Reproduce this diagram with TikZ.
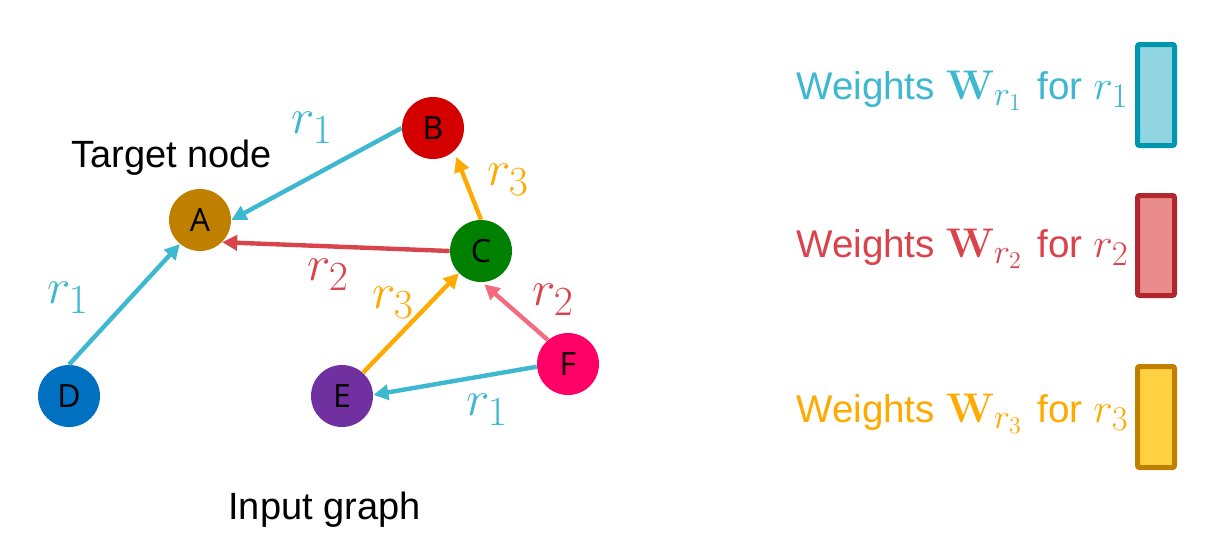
\documentclass[tikz,border=0pt]{standalone}
\usepackage[no-math]{fontspec}
\setmainfont{Liberation Sans}
\newfontfamily\nodefont{Open Sans}
\DeclareMathSizes{19.3}{19.3}{16}{12}
\DeclareMathSizes{23}{23}{19.5}{14}
\usetikzlibrary{arrows.meta}
\definecolor{cyanE}{HTML}{3DB8D0}
\definecolor{redE}{HTML}{D9434B}
\definecolor{orangeE}{HTML}{FFAA00}
\definecolor{pinkE}{HTML}{F46B7F}
\definecolor{nA}{HTML}{BF8000}
\definecolor{nB}{HTML}{D40000}
\definecolor{nC}{HTML}{008000}
\definecolor{nD}{HTML}{0070C0}
\definecolor{nE}{HTML}{7030A0}
\definecolor{nF}{HTML}{FF0066}
\definecolor{cyanFill}{HTML}{92D5E2}
\definecolor{cyanBorder}{HTML}{0097AE}
\definecolor{redFill}{HTML}{EA8C8C}
\definecolor{redBorder}{HTML}{B0282E}
\definecolor{yelFill}{HTML}{FFD140}
\definecolor{yelBorder}{HTML}{BF8000}
\tikzset{
  gnode/.style={circle, minimum size=31pt, inner sep=0pt, font=\nodefont\fontsize{16}{16}\selectfont, text=black},
  rel/.style={line width=2.2pt, -{Triangle[length=7.5pt,width=7.5pt]}},
  rlab/.style={inner sep=0pt, font=\fontsize{23}{23}\selectfont},
  plain/.style={inner sep=0pt, font=\fontsize{19}{19}\selectfont, text=black},
  legend/.style={inner sep=0pt, anchor=base east, font=\fontsize{19.3}{19.3}\selectfont},
  wbox/.style={line width=2.5pt, rounded corners=1pt},
}
\begin{document}
\begin{tikzpicture}[x=0.5pt, y=-0.5pt]
\useasboundingbox (0,0) rectangle (1222,554);
% nodes
\node[gnode, fill=nA] (A) at (200,220) {A};
\node[gnode, fill=nB] (B) at (433,128) {B};
\node[gnode, fill=nC] (C) at (481,251) {C};
\node[gnode, fill=nD] (D) at (69,396) {D};
\node[gnode, fill=nE] (E) at (342,396) {E};
\node[gnode, fill=nF] (F) at (568,364) {F};
% texts
\node[plain, anchor=base west] (tn) at (71,167) {Target node};
\node[plain, anchor=base west] (ig) at (228,519) {Input graph};
% edges
\draw[rel, cyanE] (B.180) -- (A.0);
\draw[rel, redE] (C.180) -- (A.-45);
\draw[rel, cyanE] (D.90) -- (A.-130);
\draw[rel, orangeE, shorten >=3pt] (C.90) -- (B.-48);
\draw[rel, orangeE] (E.48) -- (C.-135);
\draw[rel, pinkE, shorten >=1.5pt] (F.130) -- (C.-88);
\draw[rel, cyanE] (F.185) -- (E.2);
% edge labels
\node[rlab, text=cyanE] (l1) at (312,128) {$r_1$};
\node[rlab, text=cyanE] (l2) at (68,298) {$r_1$};
\node[rlab, text=redE] (l3) at (328,275) {$r_2$};
\node[rlab, text=orangeE] (l4) at (508,180) {$r_3$};
\node[rlab, text=orangeE] (l5) at (393,303) {$r_3$};
\node[rlab, text=redE] (l6) at (553,300) {$r_2$};
\node[rlab, text=cyanE] (l7) at (487,410) {$r_1$};
% legend
\node[legend, text=cyanE] (w1) at (1129,99) {Weights $\mathbf{W}_{r_1}$\hspace{2pt} for $r_1$};
\node[legend, text=redE] (w2) at (1129,257) {Weights $\mathbf{W}_{r_2}$\hspace{2pt} for $r_2$};
\node[legend, text=orangeE] (w3) at (1129,422) {Weights $\mathbf{W}_{r_3}$\hspace{2pt} for $r_3$};
\draw[wbox, draw=cyanBorder, fill=cyanFill] (1137.5,44.5) rectangle (1174.5,145.5);
\draw[wbox, draw=redBorder, fill=redFill] (1137.5,195.5) rectangle (1174.5,295.5);
\draw[wbox, draw=yelBorder, fill=yelFill] (1137.5,366.5) rectangle (1174.5,467.5);
\end{tikzpicture}
\end{document}
